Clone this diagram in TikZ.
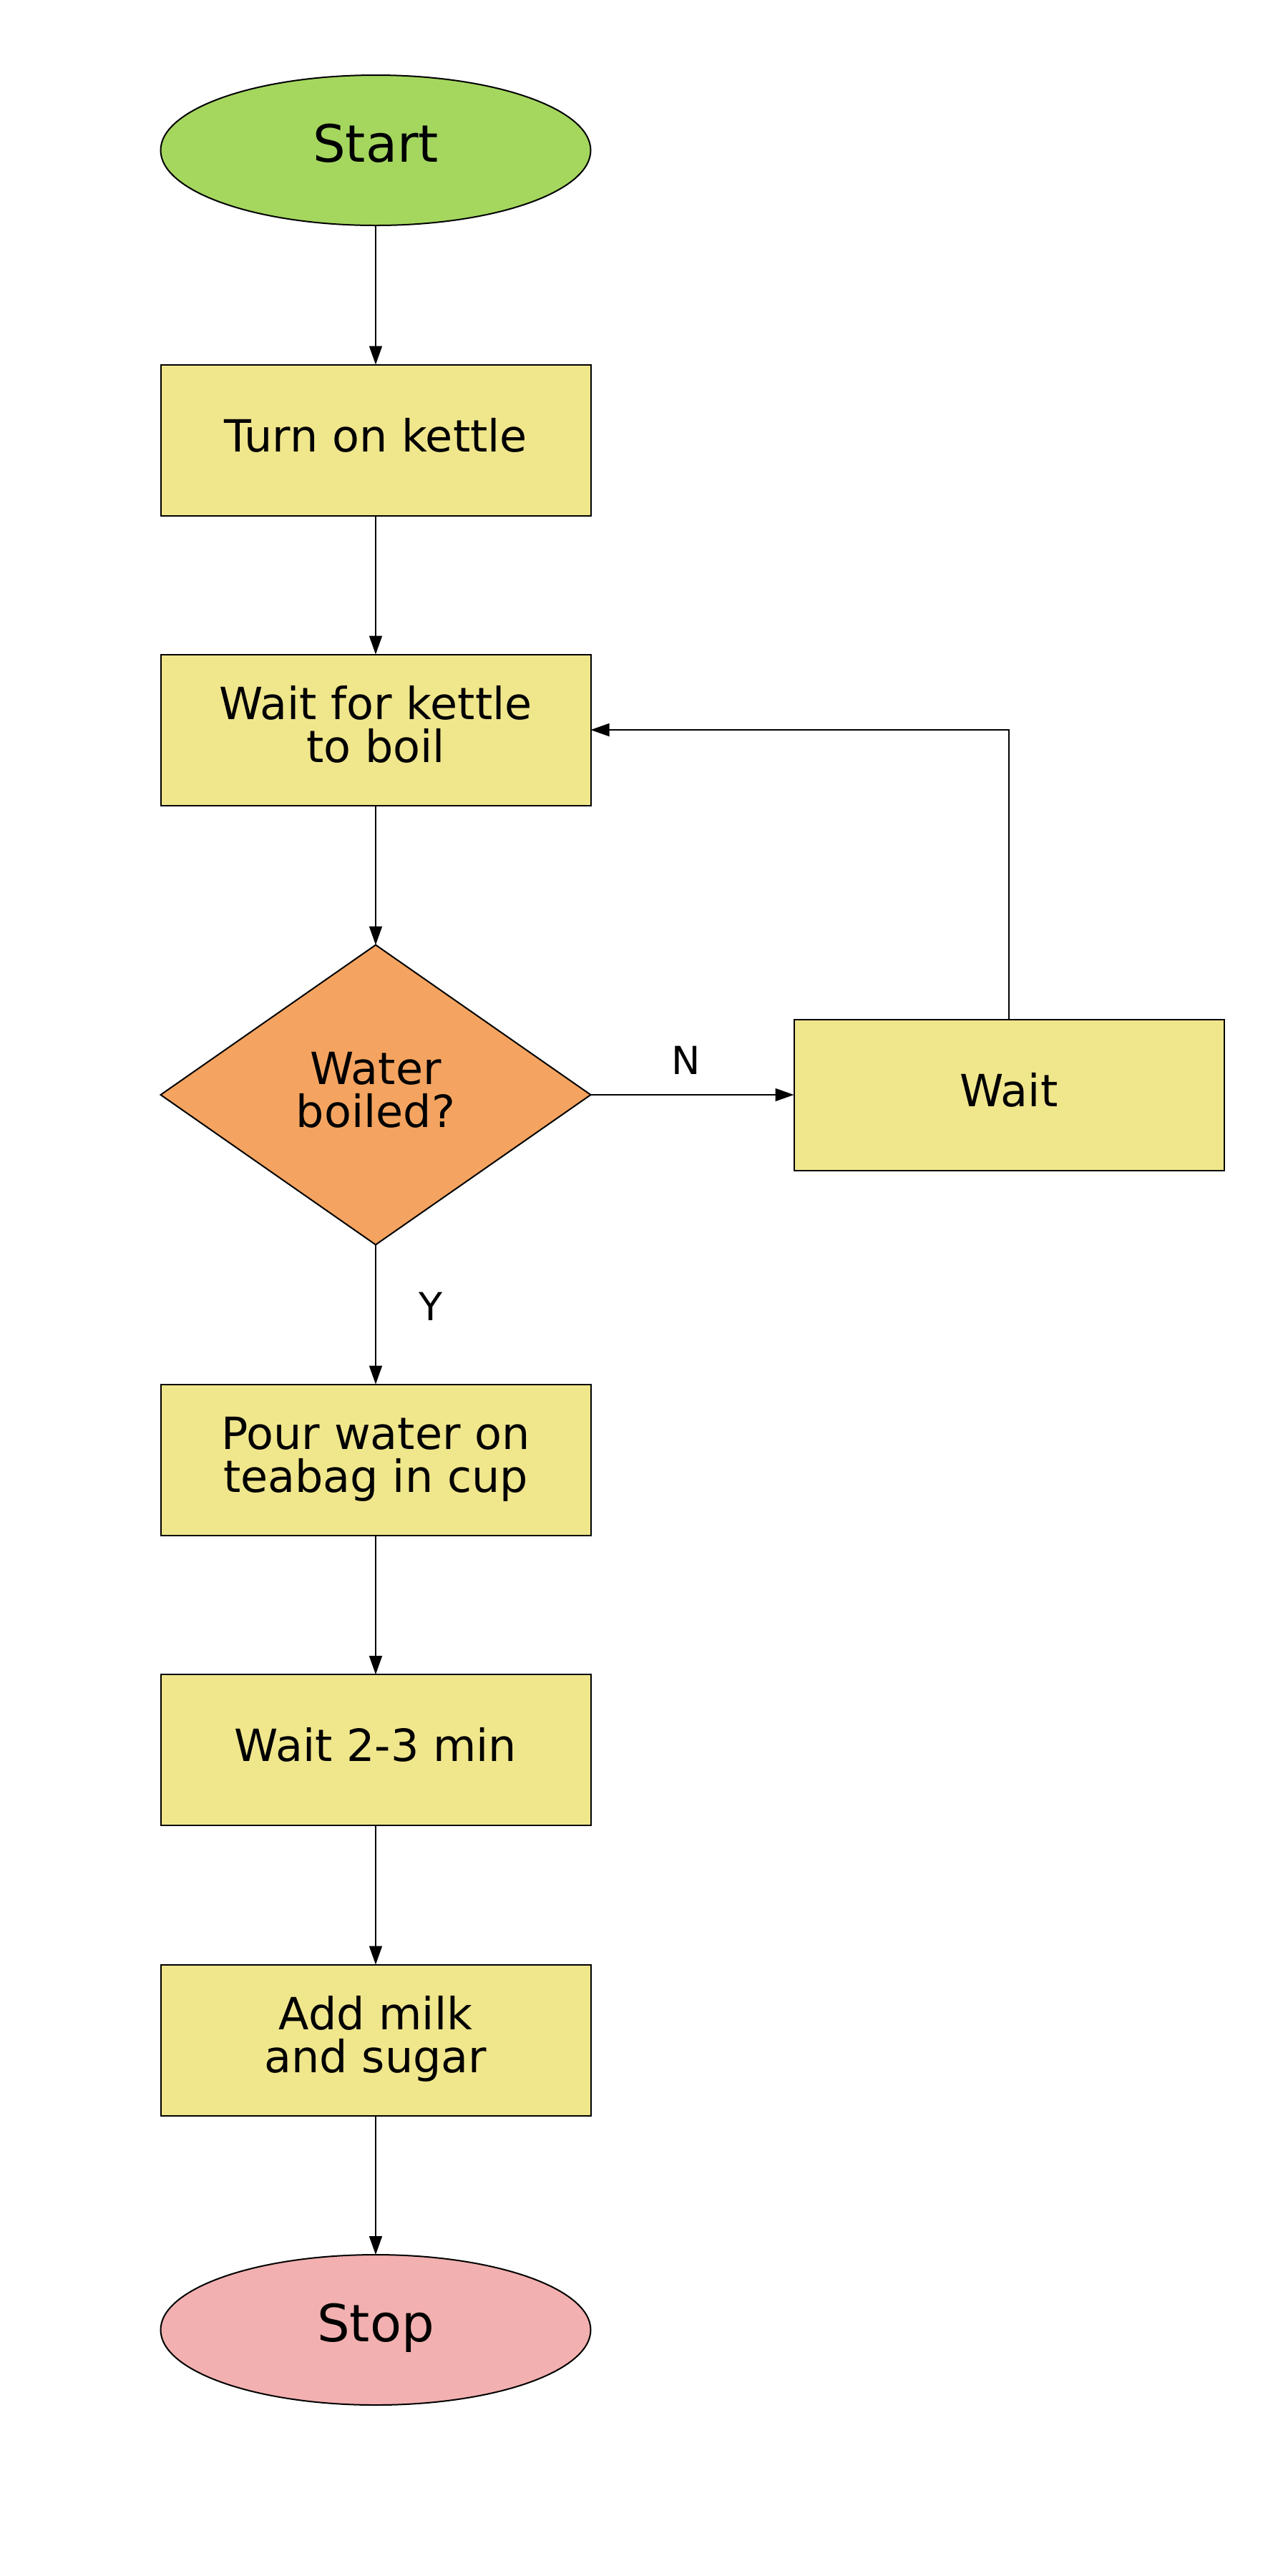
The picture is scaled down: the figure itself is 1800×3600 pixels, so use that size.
\documentclass[tikz,border=0pt]{standalone}
\usepackage{fontspec}
\setmainfont{DejaVu Sans}
\usetikzlibrary{shapes.geometric,arrows.meta}
\definecolor{startgreen}{HTML}{A5D75F}
\definecolor{boxkhaki}{HTML}{F0E68C}
\definecolor{decorange}{HTML}{F4A460}
\definecolor{stoppink}{HTML}{F3B0B0}
\begin{document}
\begin{tikzpicture}[x=0.5pt,y=-0.5pt,
  basebox/.style={draw=black,line width=1pt,inner sep=0pt,outer sep=0pt,align=center,
    text depth=0pt,text height=16pt,font=\fontsize{31}{30}\selectfont},
  terminal/.style={basebox,ellipse,minimum width=300.5pt,minimum height=105pt,
    font=\fontsize{36}{36}\selectfont},
  process/.style={basebox,rectangle,minimum width=300.5pt,minimum height=105.5pt,fill=boxkhaki},
  twoline/.style={text height=45pt,text depth=0pt},
  decision/.style={basebox,diamond,minimum width=300.5pt,minimum height=209.5pt,fill=decorange},
  conn/.style={draw=black,line width=0.85pt,-{Triangle[length=13pt,width=9pt]}},
  lbl/.style={font=\fontsize{27}{27}\selectfont,inner sep=0pt,outer sep=0pt}]
\useasboundingbox (0,0) rectangle (1800,3600);

\node[terminal,fill=startgreen] (start) at (525,210) {Start};
\node[process] (kettle) at (525,615) {Turn on kettle};
\node[process,twoline] (boil) at (525,1020) {Wait for kettle\\to boil};
\node[decision,twoline] (dec) at (525,1530) {Water\\boiled?};
\node[process] (wait) at (1410,1530) {Wait};
\node[process,twoline] (pour) at (525,2040) {Pour water on\\teabag in cup};
\node[process] (steep) at (525,2445.5) {Wait 2-3 min};
\node[process,twoline] (milk) at (525,2851) {Add milk\\and sugar};
\node[terminal,fill=stoppink] (stop) at (525,3256) {Stop};

\draw[conn] (start) -- (kettle);
\draw[conn] (kettle) -- (boil);
\draw[conn] (boil) -- (dec);
\draw[conn] (dec) -- node[lbl,pos=0.47,anchor=base,yshift=14.5pt] (nlabel) {N} (wait);
\draw[conn] (dec) -- node[lbl,pos=0.544,anchor=base,xshift=38.25pt] (ylabel) {Y} (pour);
\draw[conn] (wait.north) |- (boil.east);
\draw[conn] (pour) -- (steep);
\draw[conn] (steep) -- (milk);
\draw[conn] (milk) -- (stop);
\end{tikzpicture}
\end{document}
